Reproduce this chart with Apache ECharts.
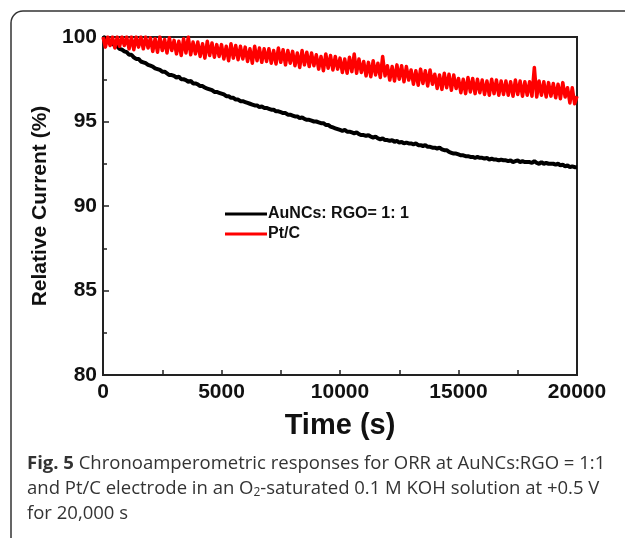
<!DOCTYPE html>
<html>
<head>
<meta charset="utf-8">
<script src="https://cdn.jsdelivr.net/npm/echarts@6/dist/echarts.min.js"></script>
<style>
  html, body { margin: 0; padding: 0; background: #fff; }
  #main { width: 625px; height: 538px; }
</style>
</head>
<body>
<div id="main"></div>
<script>
// AuNCs: RGO = 1:1, relative current (%) every 100 s
const auncsRgo = [
  100, 99.95, 99.85, 99.75, 99.6, 99.5, 99.45, 99.3, 99.25, 99.15,
  99.1, 98.95, 98.95, 98.8, 98.7, 98.7, 98.55, 98.5, 98.45, 98.35,
  98.3, 98.25, 98.15, 98.1, 98.05, 97.95, 97.95, 97.85, 97.75, 97.75,
  97.7, 97.6, 97.65, 97.5, 97.5, 97.45, 97.35, 97.4, 97.25, 97.25,
  97.2, 97.1, 97.1, 97.0, 96.95, 96.9, 96.85, 96.75, 96.75, 96.7,
  96.65, 96.6, 96.5, 96.5, 96.4, 96.4, 96.3, 96.3, 96.2, 96.2,
  96.15, 96.1, 96.05, 96.0, 95.95, 95.95, 95.85, 95.9, 95.8, 95.8,
  95.75, 95.7, 95.7, 95.6, 95.6, 95.55, 95.5, 95.5, 95.4, 95.4,
  95.35, 95.3, 95.3, 95.2, 95.25, 95.15, 95.1, 95.1, 95.05, 95.0,
  95.0, 94.95, 94.9, 94.9, 94.8, 94.8, 94.7, 94.65, 94.6, 94.55,
  94.5, 94.45, 94.5, 94.4, 94.4, 94.35, 94.3, 94.35, 94.25, 94.2,
  94.2, 94.15, 94.2, 94.1, 94.05, 94.1, 94.0, 93.95, 94.0, 93.9,
  93.9, 93.85, 93.9, 93.8, 93.85, 93.75, 93.8, 93.7, 93.75, 93.7,
  93.7, 93.65, 93.7, 93.6, 93.6, 93.55, 93.6, 93.5, 93.5, 93.45,
  93.45, 93.4, 93.45, 93.35, 93.3, 93.3, 93.2, 93.15, 93.1, 93.1,
  93.05, 93.0, 93.0, 92.95, 92.95, 92.9, 92.9, 92.85, 92.9, 92.85,
  92.85, 92.8, 92.85, 92.75, 92.8, 92.75, 92.75, 92.7, 92.75, 92.7,
  92.7, 92.65, 92.7, 92.6, 92.65, 92.7, 92.6, 92.65, 92.6, 92.6,
  92.6, 92.55, 92.65, 92.55, 92.5, 92.6, 92.5, 92.55, 92.5, 92.5,
  92.5, 92.45, 92.5, 92.4, 92.45, 92.35, 92.4, 92.3, 92.35, 92.3,
  92.3
];

// Pt/C, relative current (%) every 100 s, noisy band
const ptC = [
  100, 99.4, 100, 99.5, 100, 99.35, 100, 99.45, 100, 99.5,
  100, 99.3, 100, 99.25, 100, 99.4, 100, 99.3, 100, 99.35,
  99.95, 99.15, 99.9, 99.1, 100, 99.2, 99.85, 99.05, 99.95, 99.2,
  99.8, 99.0, 99.75, 98.9, 99.9, 99.05, 100, 98.95, 99.7, 99.0,
  99.7, 98.85, 99.6, 98.75, 99.75, 98.9, 99.65, 98.8, 99.55, 98.85,
  99.55, 98.7, 99.45, 98.6, 99.6, 98.75, 99.5, 98.65, 99.45, 98.7,
  99.4, 98.55, 99.3, 98.45, 99.45, 98.6, 99.35, 98.5, 99.3, 98.55,
  99.3, 98.45, 99.2, 98.4, 99.35, 98.5, 99.25, 98.35, 99.2, 98.45,
  99.15, 98.3, 99.05, 98.2, 99.2, 98.35, 99.1, 98.25, 99.05, 98.3,
  98.95, 98.1, 98.85, 98.0, 99.0, 98.15, 98.9, 98.05, 98.85, 98.1,
  98.75, 97.9, 98.7, 97.85, 98.8, 97.95, 99.0, 97.85, 98.7, 97.9,
  98.55, 97.7, 98.5, 97.65, 98.6, 97.75, 98.45, 97.6, 98.85, 97.7,
  98.3, 97.45, 98.25, 97.4, 98.35, 97.5, 98.3, 97.35, 98.25, 97.45,
  98.05, 97.2, 98.0, 97.15, 98.1, 97.25, 98.0, 97.1, 98.05, 97.2,
  97.8, 96.95, 97.75, 96.9, 97.85, 97.0, 97.8, 96.85, 97.75, 96.95,
  97.55, 96.7, 97.5, 96.65, 97.6, 96.75, 97.55, 96.65, 97.5, 96.7,
  97.45, 96.6, 97.4, 96.55, 97.5, 96.65, 97.45, 96.55, 97.4, 96.6,
  97.4, 96.55, 97.35, 96.5, 97.45, 96.6, 97.4, 96.5, 97.35, 96.55,
  97.35, 96.5, 98.2, 96.45, 97.4, 96.55, 97.35, 96.45, 97.3, 96.5,
  97.25, 96.4, 97.2, 96.35, 97.3, 96.45, 97.0, 96.1, 97.0, 96.05,
  96.5
];

const sampleStep = 100; // s between points
const times = auncsRgo.map((_, i) => i * sampleStep);
const seriesNames = ['AuNCs: RGO= 1: 1', 'Pt/C'];

const font = 'Liberation Sans, Arial, sans-serif';
const capFont = 'Open Sans, sans-serif';

const myChart = echarts.init(document.getElementById('main'), null, { renderer: 'canvas' });

const option = {
  animation: false,
  backgroundColor: '#fff',
  grid: {
    left: 103, right: 48, top: 37, bottom: 163,
    show: true, borderColor: '#222', borderWidth: 2
  },
  legend: {
    orient: 'vertical',
    left: 220, top: 201,
    itemGap: 4,
    itemWidth: 42, itemHeight: 3,
    icon: 'rect',
    data: seriesNames,
    textStyle: { fontFamily: font, fontWeight: 'bold', fontSize: 16, color: '#111', padding: [0, 0, 0, -4] }
  },
  xAxis: {
    type: 'value', min: 0, max: 20000, interval: 5000,
    name: 'Time (s)', nameLocation: 'middle', nameGap: 36,
    nameTextStyle: { fontFamily: font, fontWeight: 'bold', fontSize: 29, color: '#111' },
    axisLine: { show: true, lineStyle: { color: '#222', width: 2 } },
    axisTick: { inside: true, length: 5, lineStyle: { color: '#222', width: 1.5 } },
    minorTick: { show: true, splitNumber: 2, length: 5, lineStyle: { color: '#222', width: 1.5 } },
    splitLine: { show: false },
    axisLabel: {
      fontFamily: font, fontWeight: 'bold', fontSize: 21, color: '#111', margin: 7,
      formatter: v => String(v)
    }
  },
  yAxis: {
    type: 'value', min: 80, max: 100, interval: 5,
    name: 'Relative Current (%)', nameLocation: 'middle', nameGap: 37,
    nameTextStyle: { fontFamily: font, fontWeight: 'bold', fontSize: 21, color: '#111' },
    axisLine: { show: true, lineStyle: { color: '#222', width: 2 } },
    axisTick: { inside: true, length: 6, lineStyle: { color: '#222', width: 1.5 } },
    minorTick: { show: true, splitNumber: 2, length: 4, lineStyle: { color: '#222', width: 1.5 } },
    splitLine: { show: false },
    axisLabel: { fontFamily: font, fontWeight: 'bold', fontSize: 21, color: '#111', margin: 6 }
  },
  series: [
    {
      name: seriesNames[0],
      type: 'line',
      data: times.map((t, i) => [t, auncsRgo[i]]),
      showSymbol: false,
      color: '#000',
      lineStyle: { color: '#000', width: 4 }
    },
    {
      name: seriesNames[1],
      type: 'line',
      data: times.map((t, i) => [t, ptC[i]]),
      showSymbol: false,
      color: '#ff0000',
      lineStyle: { color: '#ff0000', width: 3.5, join: 'round' }
    }
  ],
  graphic: [
    {
      type: 'rect',
      shape: { x: 11, y: 11, width: 800, height: 800, r: 12 },
      style: { fill: 'none', stroke: '#333', lineWidth: 1.5 },
      silent: true
    },
    {
      type: 'text', left: 27, top: 454,
      style: {
        text: '{b|Fig. 5} Chronoamperometric responses for ORR at AuNCs:RGO = 1:1',
        fontFamily: capFont, fontSize: 18.5, fill: '#333',
        rich: { b: { fontFamily: capFont, fontWeight: 'bold', fontSize: 18.5, fill: '#333' } }
      }
    },
    {
      type: 'text', left: 27, top: 479,
      style: {
        text: 'and Pt/C electrode in an O{sub|2}-saturated 0.1 M KOH solution at +0.5 V',
        fontFamily: capFont, fontSize: 18.5, fill: '#333',
        rich: { sub: { fontFamily: capFont, fontSize: 12, fill: '#333', padding: [8, 0, 0, 0] } }
      }
    },
    {
      type: 'text', left: 27, top: 504,
      style: { text: 'for 20,000 s', fontFamily: capFont, fontSize: 18.5, fill: '#333' }
    }
  ]
};

myChart.setOption(option);
</script>
</body>
</html>
